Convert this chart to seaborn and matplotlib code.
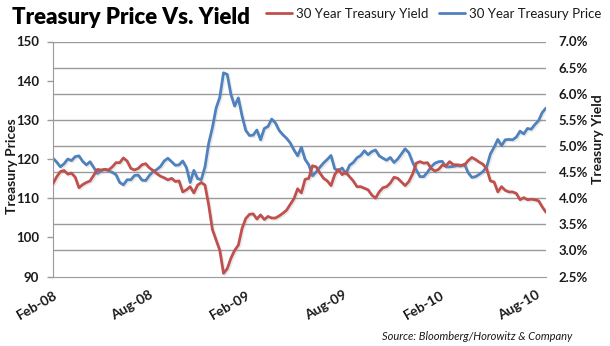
import numpy as np
import pandas as pd
import matplotlib
matplotlib.use("Agg")
import matplotlib.pyplot as plt
import matplotlib.dates as mdates
import matplotlib.patheffects as pe
import seaborn as sns

# ---- data (weekly) ----
start_date = "2008-02-01"
price = [120.2, 119.2, 118.0, 118.8, 120.0, 119.6, 120.6, 120.8, 119.4, 118.5,
         119.3, 117.8, 116.3, 117.0, 117.4, 117.0, 116.6, 116.0, 114.0, 113.4,
         114.7, 114.7, 115.8, 115.9, 114.6, 114.5, 115.8, 116.8, 117.3, 118.1,
         119.5, 120.2, 119.3, 118.4, 118.5, 119.5, 117.8, 114.0, 117.1, 115.0,
         114.7, 118.0, 124.0, 128.0, 133.0, 135.8, 142.0, 141.6, 136.5, 133.5,
         135.6, 131.0, 127.3, 126.0, 126.1, 127.4, 124.9, 127.8, 128.3, 130.2,
         129.2, 127.3, 126.2, 125.3, 124.1, 122.3, 120.8, 123.0, 119.9, 118.5,
         115.7, 116.7, 117.9, 119.0, 119.9, 120.9, 117.5, 117.0, 117.7, 116.2,
         118.4, 119.1, 120.3, 120.9, 122.1, 121.1, 121.9, 122.3, 120.8, 120.2,
         119.7, 120.4, 119.1, 120.0, 121.3, 122.6, 121.6, 119.2, 117.2, 115.5,
         115.5, 116.6, 118.0, 118.9, 119.3, 119.4, 118.0, 118.0, 118.1, 118.3,
         118.2, 118.7, 116.5, 115.3, 115.5, 116.1, 116.8, 118.0, 121.3, 123.0,
         125.0, 123.4, 124.9, 125.0, 124.9, 125.6, 127.1, 126.4, 127.8, 127.6,
         128.8, 129.8, 131.9, 133.0]
yield_pct = [4.28, 4.41, 4.51, 4.53, 4.46, 4.48, 4.40, 4.20, 4.26, 4.30,
             4.33, 4.44, 4.55, 4.54, 4.55, 4.54, 4.60, 4.68, 4.68, 4.77,
             4.71, 4.57, 4.54, 4.57, 4.64, 4.66, 4.58, 4.53, 4.47, 4.42,
             4.39, 4.35, 4.38, 4.32, 4.33, 4.12, 4.16, 4.22, 4.10, 4.25,
             4.30, 4.25, 3.87, 3.40, 3.20, 3.00, 2.56, 2.65, 2.85, 3.00,
             3.10, 3.42, 3.61, 3.69, 3.70, 3.60, 3.68, 3.59, 3.65, 3.62,
             3.62, 3.66, 3.71, 3.77, 3.88, 3.99, 4.18, 4.10, 4.36, 4.38,
             4.62, 4.60, 4.48, 4.38, 4.33, 4.24, 4.45, 4.55, 4.45, 4.50,
             4.41, 4.33, 4.22, 4.22, 4.19, 4.16, 4.06, 4.00, 4.12, 4.20,
             4.22, 4.29, 4.40, 4.38, 4.31, 4.24, 4.32, 4.46, 4.67, 4.70,
             4.67, 4.68, 4.57, 4.52, 4.55, 4.63, 4.62, 4.70, 4.64, 4.64,
             4.63, 4.63, 4.72, 4.78, 4.74, 4.69, 4.65, 4.56, 4.33, 4.31,
             4.12, 4.22, 4.15, 4.12, 4.12, 4.09, 3.97, 4.01, 3.97, 3.98,
             3.97, 3.95, 3.83, 3.73]
series_names = ["30 Year Treasury Yield", "30 Year Treasury Price"]
title = "Treasury Price Vs. Yield"
left_label = "Treasury Prices"
right_label = "Treasury Yield"
source_text = "Source: Bloomberg/Horowitz & Company"

dates = pd.date_range(start_date, periods=len(price), freq="7D")
df = pd.DataFrame({"date": dates, "price": price, "yield": yield_pct})

sns.set_style("white")
plt.rcParams["font.family"] = ["Lato", "DejaVu Sans"]

RED = "#C0504D"
BLUE = "#4F81BD"
TXT = "#1a1a1a"
GRID = "#9a9a9a"

fig = plt.figure(figsize=(6.10, 3.46), dpi=100)
ax = fig.add_axes([53 / 610, 1 - 276.5 / 346, (546 - 53) / 610, (276.5 - 41.5) / 346])
ax2 = ax.twinx()

shadow = [pe.SimpleLineShadow(offset=(1.0, -1.0), shadow_color="#999999", alpha=0.22), pe.Normal()]

sns.lineplot(data=df, x="date", y="price", ax=ax, color=BLUE, linewidth=2.0, legend=False)
sns.lineplot(data=df, x="date", y="yield", ax=ax2, color=RED, linewidth=2.0, legend=False)
for ln in ax.get_lines() + ax2.get_lines():
    ln.set_path_effects(shadow)

ax.set_xlim(pd.Timestamp("2008-02-01"), pd.Timestamp("2010-08-20"))
ax.set_ylim(90, 150)
ax2.set_ylim(2.5, 7.0)

# gridlines follow the secondary-axis divisions (drawn on the primary axes, under the lines)
ax.set_axisbelow(True)
for v in np.linspace(90, 150, 10)[1:]:
    ax.axhline(v, color=GRID, linewidth=1.0, zorder=0.5)

ax.set_yticks(np.arange(90, 151, 10))
ax.tick_params(axis="y", which="major", length=4, width=1, color=GRID, pad=6,
               labelsize=9.5, labelcolor=TXT)
for t in ax.get_yticklabels():
    t.set_fontweight("bold")

ax2.set_yticks(np.arange(2.5, 7.01, 0.5))
ax2.set_yticklabels([f"{v:.1f}%" for v in np.arange(2.5, 7.01, 0.5)])
ax2.tick_params(axis="y", length=0, pad=9, labelsize=9.5, labelcolor=TXT)
for t in ax2.get_yticklabels():
    t.set_fontweight("bold")

ax.xaxis.set_major_locator(mdates.MonthLocator(bymonth=[2, 8]))
ax.xaxis.set_major_formatter(mdates.DateFormatter("%b-%y"))
ax.tick_params(axis="x", length=5, width=1, color=GRID, pad=4, labelsize=10, labelcolor=TXT)
for t in ax.get_xticklabels():
    t.set_rotation(30)
    t.set_ha("right")
    t.set_rotation_mode("anchor")
    t.set_fontweight("bold")

for a in (ax, ax2):
    for s in ("top", "right", "left", "bottom"):
        a.spines[s].set_visible(False)
ax.spines["left"].set_visible(True)
ax.spines["left"].set_color(GRID)
ax.spines["bottom"].set_visible(True)
ax.spines["bottom"].set_color(GRID)

ax.set_xlabel("")
ax.set_ylabel("")
ax2.set_ylabel("")
fig.text(12 / 610, 1 - 166 / 346, left_label, rotation=90, ha="center", va="center",
         fontsize=10, fontweight="bold", color=TXT)
fig.text(598 / 610, 1 - 139 / 346, right_label, rotation=90, ha="center", va="center",
         fontsize=10, fontweight="bold", color=TXT)

fig.text(12 / 610, 1 - 18 / 346, title, ha="left", va="center", fontsize=16,
         fontweight="heavy", color="black")

handles = [ax2.get_lines()[0], ax.get_lines()[0]]
leg = fig.legend(handles, series_names, loc="center right", bbox_to_anchor=(607 / 610, 1 - 14 / 346),
                 ncol=2, frameon=False, fontsize=9.5, handlelength=2.0, handletextpad=0.3,
                 columnspacing=0.8, borderaxespad=0)
for t in leg.get_texts():
    t.set_color(TXT)
for h in leg.legend_handles:
    h.set_path_effects([])

fig.text(572 / 610, 1 - 337 / 346, source_text, ha="right", va="center", fontsize=8,
         style="italic", color=TXT)

fig.savefig("out.png", dpi=100, facecolor="white")
